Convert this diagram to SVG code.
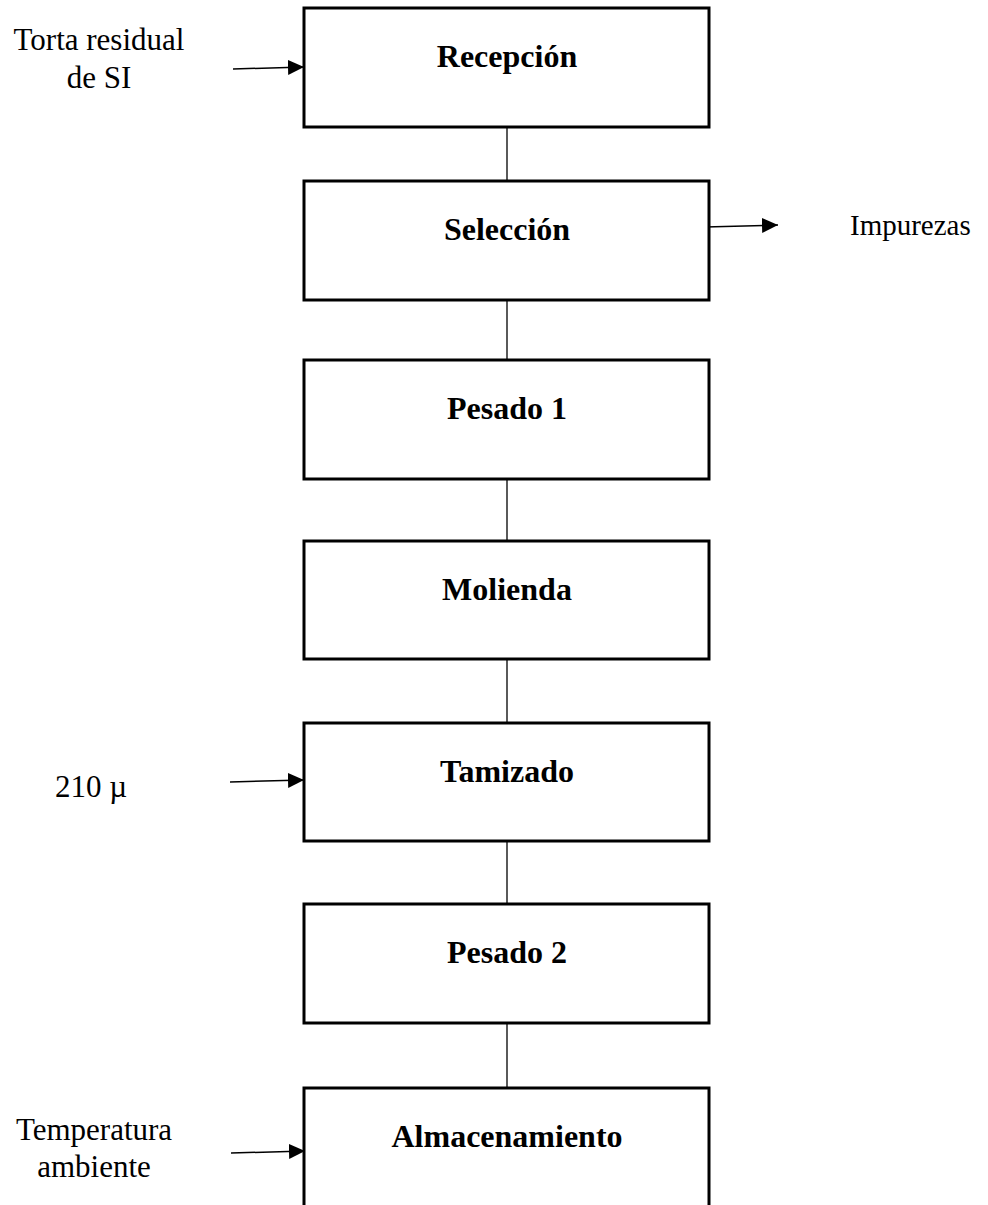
<svg xmlns="http://www.w3.org/2000/svg" width="988" height="1205" viewBox="0 0 988 1205">
  <defs>
    <style>
      .box { fill: #ffffff; stroke: #000000; stroke-width: 3; }
      .lbl { font-family: "Liberation Serif", "Times New Roman", serif; font-weight: bold; font-size: 32px; fill: #000; text-anchor: middle; }
      .side { font-family: "Liberation Serif", "Times New Roman", serif; font-size: 31px; fill: #000; }
      .link { stroke: #000; stroke-width: 1.3; fill: none; }
      .arrow { stroke: #000; stroke-width: 1.5; fill: none; marker-end: url(#head); }
    </style>
    <marker id="head" markerUnits="userSpaceOnUse" viewBox="0 0 16 15" refX="16" refY="7.5" markerWidth="16" markerHeight="15" orient="auto">
      <path d="M0,0 L16,7.5 L0,15 z" fill="#000"/>
    </marker>
  </defs>
  <rect width="988" height="1205" fill="#ffffff"/>

  <g id="connectors">
    <line class="link" x1="507" y1="127" x2="507" y2="181"/>
    <line class="link" x1="507" y1="300" x2="507" y2="360"/>
    <line class="link" x1="507" y1="479" x2="507" y2="541"/>
    <line class="link" x1="507" y1="659" x2="507" y2="723"/>
    <line class="link" x1="507" y1="841" x2="507" y2="904"/>
    <line class="link" x1="507" y1="1023" x2="507" y2="1088"/>
    <line class="arrow" x1="233" y1="69" x2="304" y2="67"/>
    <line class="arrow" x1="705" y1="227" x2="778" y2="225"/>
    <line class="arrow" x1="230" y1="782" x2="304" y2="780"/>
    <line class="arrow" x1="231" y1="1153" x2="305" y2="1151"/>
  </g>

  <g id="recepcion">
    <rect class="box" x="304" y="8" width="405" height="119"/>
    <text class="lbl" x="507" y="67">Recepción</text>
  </g>
  <g id="seleccion">
    <rect class="box" x="304" y="181" width="405" height="119"/>
    <text class="lbl" x="507" y="240">Selección</text>
  </g>
  <g id="pesado1">
    <rect class="box" x="304" y="360" width="405" height="119"/>
    <text class="lbl" x="507" y="419">Pesado 1</text>
  </g>
  <g id="molienda">
    <rect class="box" x="304" y="541" width="405" height="118"/>
    <text class="lbl" x="507" y="600">Molienda</text>
  </g>
  <g id="tamizado">
    <rect class="box" x="304" y="723" width="405" height="118"/>
    <text class="lbl" x="507" y="782">Tamizado</text>
  </g>
  <g id="pesado2">
    <rect class="box" x="304" y="904" width="405" height="119"/>
    <text class="lbl" x="507" y="963">Pesado 2</text>
  </g>
  <g id="almacenamiento">
    <rect class="box" x="304" y="1088" width="405" height="130"/>
    <text class="lbl" x="507" y="1147">Almacenamiento</text>
  </g>

  <g id="input-torta">
    <text class="side" x="99" y="50" text-anchor="middle">Torta residual</text>
    <text class="side" x="99" y="88" text-anchor="middle">de SI</text>
  </g>
  <g id="output-impurezas">
    <text class="side" x="850" y="235" style="font-size:29px">Impurezas</text>
  </g>
  <g id="input-210">
    <text class="side" x="55" y="797">210 µ</text>
  </g>
  <g id="input-temperatura">
    <text class="side" x="94" y="1140" text-anchor="middle">Temperatura</text>
    <text class="side" x="94" y="1177" text-anchor="middle">ambiente</text>
  </g>
</svg>
